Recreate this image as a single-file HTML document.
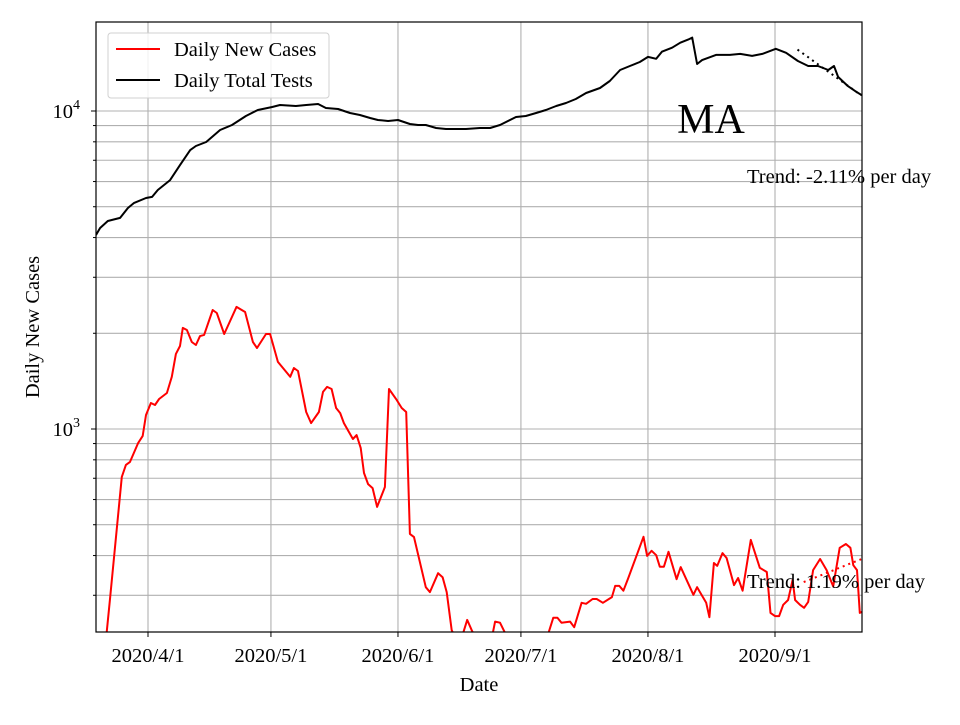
<!DOCTYPE html>
<html><head><meta charset="utf-8"><style>
html,body{margin:0;padding:0;background:#fff;}
svg text{font-family:"Liberation Serif",serif;}
</style></head><body>
<svg id="chart" width="960" height="720" xmlns="http://www.w3.org/2000/svg"></svg>
<script>
// ---- data (day offset from 2020/4/1) ----
const testDays=[-12.7,-11.7,-9.8,-6.8,-4.9,-3.4,-0.5,1,2.4,5.4,7.8,10.3,11.7,14.2,17.6,20.5,23.9,26.8,30.3,32.2,36.1,38.6,41.5,43.4,46.4,49.3,51.7,54.2,56.1,58.6,61,63.9,65.9,67.8,70.3,72.7,75.2,77.6,81,83.5,85.9,89.8,92.2,94.7,97.1,99.6,102,104.4,106.9,110.3,112.7,115.2,117.6,120,122,124,125.4,127.9,129.9,131.8,132.8,134,135.2,138.6,142,144.5,147.4,149.9,153.2,155.7,158.6,161.1,163.5,166,167.4,168.4,170.8,172.8,174.2];
const testVals=[4074,4285,4508,4610,4955,5140,5325,5370,5645,6065,6760,7535,7760,7990,8715,9035,9645,10072,10295,10445,10370,10445,10520,10220,10145,9856,9714,9506,9370,9302,9370,9101,9035,9035,8840,8776,8776,8776,8840,8840,9035,9574,9645,9856,10072,10370,10595,10905,11393,11810,12430,13460,13855,14260,14800,14590,15360,15810,16400,16770,17010,14050,14460,15010,15010,15120,14900,15120,15690,15240,14360,13855,13855,13460,13855,12800,11980,11500,11200];
const caseDays=[-10.1,-9.3,-6.4,-5.4,-4.4,-2.4,-1.3,-0.5,0.7,1.7,2.7,4.6,5.8,6.8,7.8,8.5,9.5,10.7,11.7,12.7,13.7,15.8,16.8,18.6,21.6,23.7,25.6,26.6,28.8,29.8,31.7,34.7,35.6,36.6,38.6,39.8,41.7,42.7,43.7,44.8,45.9,46.9,47.8,50,50.9,51.9,52.7,53.7,54.8,55.9,57.8,58.8,60.7,61.9,63,63.9,64.9,67.8,68.8,70.8,71.9,72.9,74.1,74.7,76.9,77.9,79,80,83.9,84.7,85.9,87.1,88.3,96.9,97.7,98.9,99.9,100.9,103,104,105.8,106.9,108.5,109.5,111,113.2,114,115,116,117.2,120.9,121.8,122.9,124,124.9,125.9,127,129,130,133.1,134,136.2,137,138.1,138.9,140.2,141.2,143,144,145.1,147.1,149.3,151,151.9,153,154,155,156.2,157.3,157.9,159.1,160.1,161.1,162.3,164,165.6,167.2,168.8,170.3,171.4,172.1,173,173.7,174.2];
const caseVals=[228,290,707,771,788,904,951,1107,1207,1190,1243,1298,1459,1722,1824,2080,2048,1878,1837,1960,1977,2367,2317,1990,2421,2333,1878,1798,1990,1990,1625,1459,1555,1522,1131,1044,1131,1308,1356,1336,1164,1122,1044,930,957,872,727,671,652,569,657,1336,1233,1164,1131,468,457,318,307,352,342,307,233,225,228,251,233,220,220,248,246,229,215,215,228,255,255,246,248,238,284,282,292,292,284,296,321,321,310,340,458,399,414,401,369,369,411,337,368,301,318,284,256,379,371,407,393,323,340,310,448,366,355,264,258,258,280,290,335,290,280,274,286,360,390,360,320,423,435,423,373,360,264,266];
const xTickDays=[0,30,61,91,122,153];
const xTickLabels=["2020/4/1","2020/5/1","2020/6/1","2020/7/1","2020/8/1","2020/9/1"];
const trendTests={start:158.5,end:174.2,startVal:15600,rate:-0.0211};
const trendCases={start:160,end:174.2,startVal:330,rate:0.0119};

// ---- axes ----
const L=96,R=862,T=22,B=632;
const X=d=>148+(d-0)*(775-148)/153;
const Y=v=>429-(Math.log10(v)-3)*318;
const NS="http://www.w3.org/2000/svg";
const svg=document.getElementById('chart');
function mk(tag,attrs,parent){const e=document.createElementNS(NS,tag);for(const k in attrs)e.setAttribute(k,attrs[k]);(parent||svg).appendChild(e);return e;}
const FS=20.5;

const defs=mk('defs',{});
const cp=mk('clipPath',{id:'clip'},defs);
mk('rect',{x:L,y:T,width:R-L,height:B-T},cp);

const grid=mk('g',{});


for(let e=2;e<=4;e++){for(let m=1;m<=9;m++){const v=m*Math.pow(10,e);if(v<230||v>19000)continue;const y=Y(v);
 const l=mk('line',{x1:L,x2:R,y1:y,y2:y,stroke:'#b0b0b0','stroke-width':1.1},grid);
 
 
 const t=mk('line',{x1:L,x2:L-(m===1?5:3),y1:y,y2:y,stroke:'#000','stroke-width':1},svg);
 
 
}}
xTickDays.forEach((d,i)=>{const x=X(d);
 const l=mk('line',{x1:x,x2:x,y1:T,y2:B,stroke:'#b0b0b0','stroke-width':1.1},grid);
 
 
 const t=mk('line',{x1:x,x2:x,y1:B,y2:B+5,stroke:'#000','stroke-width':1});
 
 
 const tx=mk('text',{x:x,y:662,'text-anchor':'middle','font-size':FS});
 tx.textContent=xTickLabels[i];
 
 
});

[4,3].forEach(e=>{const y=Y(Math.pow(10,e));
 const t=mk('text',{x:80,y:y+7,'text-anchor':'end','font-size':FS});
 t.textContent='10';
 const s=mk('tspan',{dy:-9,'font-size':14},t);s.textContent=String(e);
 
 
});

const plot=mk('g',{'clip-path':'url(#clip)'});
function line(days,vals,color,name){
 const p=days.map((d,i)=>X(d).toFixed(1)+','+Y(vals[i]).toFixed(1)).join(' ');
 const el=mk('polyline',{points:p,fill:'none',stroke:color,'stroke-width':2,'stroke-linejoin':'round'},plot);
 
 
}
line(caseDays,caseVals,'#ff0000','daily-new-cases-line');
line(testDays,testVals,'#000000','daily-total-tests-line');
function trend(t,color,name){
 const pts=[];for(let d=t.start;d<=t.end+0.01;d+=0.5){pts.push(X(d).toFixed(1)+','+Y(t.startVal*Math.pow(1+t.rate,d-t.start)).toFixed(1));}
 const el=mk('polyline',{points:pts.join(' '),fill:'none',stroke:color,'stroke-width':2,'stroke-dasharray':'2 4'},plot);
 
 
}
trend(trendTests,'#000','tests-trend-line');
trend(trendCases,'#ff0000','cases-trend-line');

const fr=mk('rect',{x:L,y:T,width:R-L,height:B-T,fill:'none',stroke:'#000','stroke-width':1.2});



const ma=mk('text',{x:711,y:133,'text-anchor':'middle','font-size':42});ma.textContent='MA';


const t1=mk('text',{x:747,y:183,'font-size':FS});t1.textContent='Trend: -2.11% per day';


const t2=mk('text',{x:747,y:588,'font-size':FS});t2.textContent='Trend: 1.19% per day';



const xt=mk('text',{x:479,y:691,'text-anchor':'middle','font-size':FS});xt.textContent='Date';


const yt=mk('text',{x:0,y:0,'text-anchor':'middle','font-size':FS,transform:'translate(39,327) rotate(-90)'});yt.textContent='Daily New Cases';



const lg=mk('g',{});


mk('rect',{x:108,y:33,width:221,height:65,rx:3,fill:'#fff','fill-opacity':0.85,stroke:'#d0d0d0','stroke-width':1},lg);
[['#ff0000','Daily New Cases',49],['#000','Daily Total Tests',80]].forEach(([c,txt,y])=>{
 const g=mk('g',{},lg);
 
 
 mk('line',{x1:116,x2:160,y1:y,y2:y,stroke:c,'stroke-width':2},g);
 const t=mk('text',{x:174,y:y+7,'font-size':FS},g);t.textContent=txt;
});
</script>
</body></html>
